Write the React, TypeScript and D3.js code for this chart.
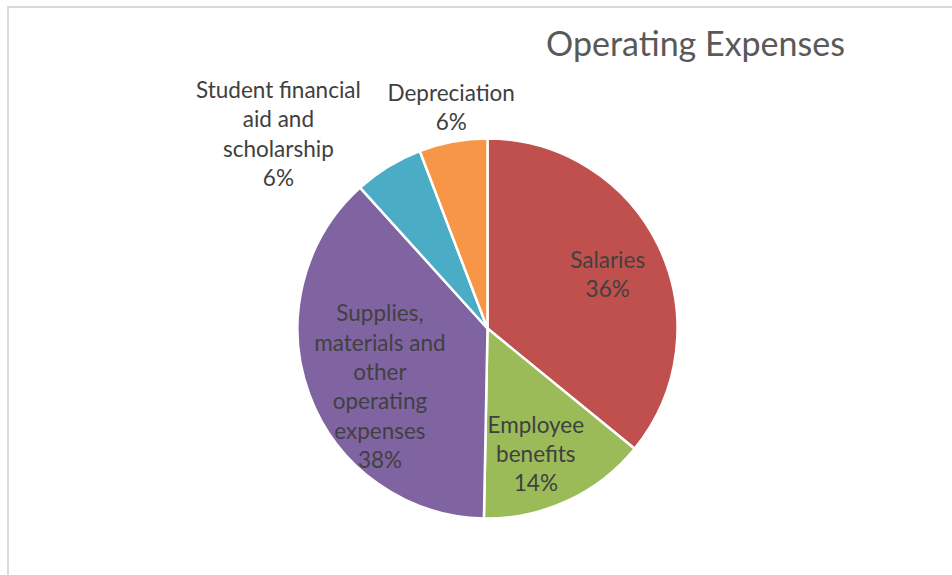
import React from "react";
import * as d3 from "d3";

const categories = [
  "Salaries",
  "Employee benefits",
  "Supplies, materials and other operating expenses",
  "Student financial aid and scholarship",
  "Depreciation",
];
const shares = [35.9, 14.4, 38.0, 5.9, 5.8];
const labelLines = [
  ["Salaries", "36%"],
  ["Employee", "benefits", "14%"],
  ["Supplies,", "materials and", "other", "operating", "expenses", "38%"],
  ["Student financial", "aid and", "scholarship", "6%"],
  ["Depreciation", "6%"],
];
const colors = ["#C0504D", "#9BBB59", "#8064A2", "#4BACC6", "#F79646"];

// label placement: radius factor of the slice, plus nudges
const labelPos = [
  { k: 0.7, dx: 0, dy: 3 },
  { k: 0.7, dx: -7.5, dy: 5 },
  { k: 0.7, dx: 17, dy: 11.5 },
  { k: 1.2, dx: -90, dy: 0 },
  { k: 1.2, dx: 5, dy: 3 },
];

const width = 952;
const height = 575;
const cx = 487.5;
const cy = 328.5;
const radius = 190;
const fontSize = 22.5;
const lineHeight = 29.3;
const font = "Lato, 'Noto Sans', sans-serif";

export default function App() {
  const pie = d3
    .pie<number>()
    .sort(null)
    .value((d) => d)
    .startAngle(0)
    .endAngle(2 * Math.PI);
  const arcs = pie(shares);
  const arc = d3.arc<d3.PieArcDatum<number>>().innerRadius(0).outerRadius(radius);

  return (
    <svg
      width={width}
      height={height}
      style={{ position: "absolute", left: 0, top: 0, background: "#fff" }}
    >
      <path d={`M8,${height} V7 H${width}`} fill="none" stroke="#d9d9d9" strokeWidth={1.8} />
      <text
        x={695.5}
        y={56}
        textAnchor="middle"
        fontFamily={font}
        fontSize={34}
        fill="#595959"
      >
        Operating Expenses
      </text>
      <g transform={`translate(${cx},${cy})`}>
        {arcs.map((a, i) => (
          <path
            key={categories[i]}
            d={arc(a) || ""}
            fill={colors[i]}
            stroke="#fff"
            strokeWidth={2.5}
            strokeLinejoin="round"
          />
        ))}
        {arcs.map((a, i) => {
          const p = labelPos[i];
          const [x, y] = d3
            .arc<d3.PieArcDatum<number>>()
            .innerRadius(radius * p.k)
            .outerRadius(radius * p.k)
            .centroid(a);
          const lines = labelLines[i];
          const top = y + p.dy - ((lines.length - 1) / 2) * lineHeight + 8;
          return (
            <text
              key={categories[i] + "-label"}
              textAnchor="middle"
              fontFamily={font}
              fontSize={fontSize}
              fill="#404040"
            >
              {lines.map((l, j) => (
                <tspan key={j} x={x + p.dx} y={top + j * lineHeight}>
                  {l}
                </tspan>
              ))}
            </text>
          );
        })}
      </g>
    </svg>
  );
}
